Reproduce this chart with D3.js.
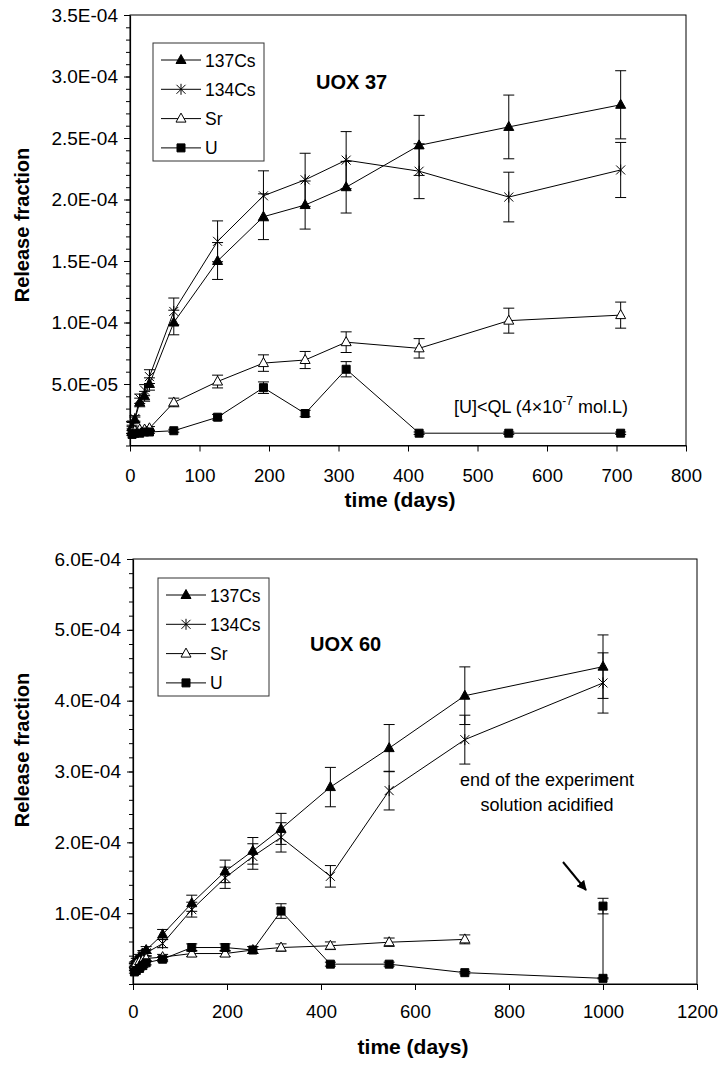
<!DOCTYPE html>
<html>
<head>
<meta charset="utf-8">
<script src="https://cdn.jsdelivr.net/npm/d3@7"></script>
<style>
  body { margin: 0; background: #fff; }
  text { font-family: 'Liberation Sans', Arial, sans-serif; }
</style>
</head>
<body>
<div id="chart"></div>
<script>
// ---- data (release fractions) ----
const seriesNames = ['137Cs', '134Cs', 'Sr', 'U']
const errorPct = 0.10   // percentage error bars

// UOX 37
const uox37Days = [3, 7, 14, 21, 28, 63, 126, 192, 252, 311, 416, 545, 706]
const uox37Cs137 = [1.5e-5, 2.1e-5, 3.5e-5, 4.0e-5, 5.0e-5, 1.00e-4, 1.50e-4, 1.86e-4, 1.955e-4, 2.10e-4, 2.44e-4, 2.59e-4, 2.77e-4]
const uox37Cs134 = [1.7e-5, 2.2e-5, 3.8e-5, 4.5e-5, 5.6e-5, 1.09e-4, 1.66e-4, 2.03e-4, 2.16e-4, 2.32e-4, 2.23e-4, 2.02e-4, 2.24e-4]
const uox37Sr = [1.1e-5, 1.2e-5, 1.3e-5, 1.3e-5, 1.4e-5, 3.5e-5, 5.2e-5, 6.7e-5, 6.95e-5, 8.4e-5, 7.9e-5, 1.015e-4, 1.06e-4]
const uox37U = [0.9e-5, 1.0e-5, 1.0e-5, 1.1e-5, 1.1e-5, 1.2e-5, 2.3e-5, 4.7e-5, 2.6e-5, 6.2e-5, 1.0e-5, 1.0e-5, 1.0e-5]
const uox37XTicks = [0, 100, 200, 300, 400, 500, 600, 700, 800]
const uox37YTicks = [5.0e-5, 1.0e-4, 1.5e-4, 2.0e-4, 2.5e-4, 3.0e-4, 3.5e-4]

// UOX 60
const uox60Days = [3, 7, 14, 21, 28, 63, 125, 196, 255, 315, 420, 545, 706, 1000]
const uox60Cs137 = [2.8e-5, 3.3e-5, 3.8e-5, 4.3e-5, 4.8e-5, 7.0e-5, 1.14e-4, 1.59e-4, 1.88e-4, 2.19e-4, 2.78e-4, 3.33e-4, 4.07e-4, 4.48e-4]
const uox60Cs134 = [2.6e-5, 3.0e-5, 3.5e-5, 4.0e-5, 4.4e-5, 5.7e-5, 1.05e-4, 1.50e-4, 1.80e-4, 2.07e-4, 1.52e-4, 2.73e-4, 3.45e-4, 4.25e-4]
const uox60SrDays = [3, 7, 14, 21, 28, 63, 125, 196, 255, 315, 420, 545, 706]
const uox60Sr = [2.6e-5, 2.9e-5, 3.2e-5, 3.4e-5, 3.6e-5, 3.8e-5, 4.3e-5, 4.3e-5, 4.8e-5, 5.15e-5, 5.4e-5, 5.9e-5, 6.3e-5]
const uox60UDays = [3, 7, 14, 21, 28, 63, 125, 196, 255, 315, 420, 545, 706, 1000, 1000]
const uox60U = [1.7e-5, 1.9e-5, 2.2e-5, 2.6e-5, 3.0e-5, 3.5e-5, 5.15e-5, 5.15e-5, 4.8e-5, 1.03e-4, 2.8e-5, 2.8e-5, 1.6e-5, 0.8e-5, 1.1e-4]
const uox60XTicks = [0, 200, 400, 600, 800, 1000, 1200]
const uox60YTicks = [1.0e-4, 2.0e-4, 3.0e-4, 4.0e-4, 5.0e-4, 6.0e-4]

const zip = (days, vals) => days.map((d, i) => ({day: d, val: vals[i]}))

const svg = d3.select('#chart').append('svg')
    .attr('width', 720)
    .attr('height', 1066)
    .style('background', '#fff')

function fmtSci(v){
    const parts = v.toExponential(1).split('e')
    const e = +parts[1]
    return parts[0] + 'E' + (e < 0 ? '-' : '+') + String(Math.abs(e)).padStart(2, '0')
}

// marker paths, centred on 0,0
const markerPath = {
    triangle: 'M0,-5.5L5,3.5L-5,3.5Z',
    asterisk: 'M0,-5.5V5.5M-4.5,-4.5L4.5,4.5M-4.5,4.5L4.5,-4.5',
    square: 'M-4,-4H4V4H-4Z'
}
const markerStyle = [
    {path: 'triangle', fill: '#000'},
    {path: 'asterisk', fill: 'none'},
    {path: 'triangle', fill: '#fff'},
    {path: 'square', fill: '#000'}
]

function drawMarker(sel, k){
    sel.append('path')
       .attr('d', markerPath[markerStyle[k].path])
       .attr('fill', markerStyle[k].fill)
       .attr('stroke', '#000')
       .attr('stroke-width', 1)
}

function drawChart(c){
    const g = svg.append('g')
    const x = d3.scaleLinear().domain(c.xDomain).range([c.left, c.right])
    const y = d3.scaleLinear().domain(c.yDomain).range([c.bottom, c.top])

    // plot frame
    g.append('rect')
     .attr('x', c.left).attr('y', c.top)
     .attr('width', c.right - c.left).attr('height', c.bottom - c.top)
     .attr('fill', 'none').attr('stroke', '#000').attr('stroke-width', 1)

    // minor y ticks
    g.append('g')
     .attr('transform', `translate(${c.left},0)`)
     .call(d3.axisLeft(y).tickValues(c.yMinor).tickSize(4).tickFormat(''))
     .call(a => a.select('.domain').remove())

    const yAxis = g.append('g')
     .attr('transform', `translate(${c.left},0)`)
     .call(d3.axisLeft(y).tickValues(c.yTicks).tickSize(6).tickSizeOuter(0).tickPadding(6).tickFormat(fmtSci))
    yAxis.selectAll('text').attr('font-size', '19px').attr('fill', '#000')
         .style('font-family', "'Liberation Sans', Arial, sans-serif")

    const xAxis = g.append('g')
     .attr('transform', `translate(0,${c.bottom})`)
     .call(d3.axisBottom(x).tickValues(c.xTicks).tickSize(6).tickSizeOuter(0).tickPadding(c.xPad).tickFormat(d3.format('d')))
    xAxis.selectAll('text').attr('font-size', '18.5px').attr('fill', '#000')
         .style('font-family', "'Liberation Sans', Arial, sans-serif")
    g.selectAll('.domain').attr('stroke-width', 1.2)

    // axis titles
    g.append('text')
     .attr('x', c.xTitleX).attr('y', c.xTitleY)
     .attr('text-anchor', 'middle')
     .attr('font-size', '21px').attr('font-weight', 'bold')
     .text('time (days)')
    g.append('text')
     .attr('transform', `translate(29,${c.yTitleY}) rotate(-90)`)
     .attr('text-anchor', 'middle')
     .attr('font-size', '20px').attr('font-weight', 'bold')
     .text('Release fraction')

    const line = d3.line().x(d => x(d.day)).y(d => y(d.val))

    c.series.forEach((s, k) => {
        g.append('path')
         .datum(s)
         .attr('d', line)
         .attr('fill', 'none')
         .attr('stroke', '#000')
         .attr('stroke-width', 1)

        const bars = g.append('g')
        s.forEach(d => {
            const hi = y(d.val * (1 + errorPct)), lo = y(d.val * (1 - errorPct)), cx = x(d.day)
            bars.append('path')
                .attr('d', `M${cx},${hi}V${lo}M${cx - 5.5},${hi}H${cx + 5.5}M${cx - 5.5},${lo}H${cx + 5.5}`)
                .attr('stroke', '#000').attr('stroke-width', 1).attr('fill', 'none')
        })

        g.append('g').selectAll('g')
         .data(s)
         .join('g')
         .attr('transform', d => `translate(${x(d.day)},${y(d.val)})`)
         .each(function(){ drawMarker(d3.select(this), k) })
    })

    // legend
    const lg = g.append('g')
    lg.append('rect')
      .attr('x', c.legend.x).attr('y', c.legend.y)
      .attr('width', 111).attr('height', 118)
      .attr('fill', '#fff').attr('stroke', '#333').attr('stroke-width', 1)
    seriesNames.forEach((name, k) => {
        const ly = c.legend.y + 17 + k * 29.3
        lg.append('line')
          .attr('x1', c.legend.x + 8).attr('x2', c.legend.x + 48)
          .attr('y1', ly).attr('y2', ly)
          .attr('stroke', '#000').attr('stroke-width', 1)
        const m = lg.append('g').attr('transform', `translate(${c.legend.x + 28},${ly})`)
        drawMarker(m, k)
        lg.append('text')
          .attr('x', c.legend.x + 52).attr('y', ly + 6.5)
          .attr('font-size', '17.5px')
          .text(name)
    })

    // chart label
    g.append('text')
     .attr('x', c.label.x).attr('y', c.label.y)
     .attr('font-size', '20px').attr('font-weight', 'bold')
     .text(c.label.text)

    return {g, x, y}
}

// ---- UOX 37 ----
const chartTop = drawChart({
    left: 130, right: 686, top: 15, bottom: 445.5,
    xDomain: [0, 800], yDomain: [0, 3.5e-4],
    xTicks: uox37XTicks, yTicks: uox37YTicks,
    yMinor: d3.range(0, 36).map(i => i * 1e-5),
    xPad: 17, xTitleX: 400, xTitleY: 507, yTitleY: 225,
    series: [zip(uox37Days, uox37Cs137), zip(uox37Days, uox37Cs134), zip(uox37Days, uox37Sr), zip(uox37Days, uox37U)],
    legend: {x: 153, y: 43},
    label: {x: 316, y: 89, text: 'UOX 37'}
})

const ql = chartTop.g.append('text')
    .attr('x', 628).attr('y', 413)
    .attr('text-anchor', 'end')
    .attr('font-size', '18px')
ql.append('tspan').text('[U]<QL (4\u00d710')
ql.append('tspan').attr('dy', -8).attr('font-size', '12px').text('-7')
ql.append('tspan').attr('dy', 8).text(' mol.L)')

// ---- UOX 60 ----
const chartBottom = drawChart({
    left: 133, right: 697, top: 559, bottom: 984,
    xDomain: [0, 1200], yDomain: [0, 6e-4],
    xTicks: uox60XTicks, yTicks: uox60YTicks,
    yMinor: d3.range(0, 31).map(i => i * 2e-5),
    xPad: 15, xTitleX: 413, xTitleY: 1054, yTitleY: 750,
    series: [zip(uox60Days, uox60Cs137), zip(uox60Days, uox60Cs134), zip(uox60SrDays, uox60Sr), zip(uox60UDays, uox60U)],
    legend: {x: 158, y: 578},
    label: {x: 310, y: 651, text: 'UOX 60'}
})

chartBottom.g.append('text')
    .attr('x', 547).attr('y', 786)
    .attr('text-anchor', 'middle').attr('font-size', '18px')
    .text('end of the experiment')
chartBottom.g.append('text')
    .attr('x', 547).attr('y', 811)
    .attr('text-anchor', 'middle').attr('font-size', '18px')
    .text('solution acidified')

svg.append('defs').append('marker')
    .attr('id', 'arrow')
    .attr('viewBox', '0 0 10 10')
    .attr('refX', 9).attr('refY', 5)
    .attr('markerWidth', 5).attr('markerHeight', 5)
    .attr('orient', 'auto')
    .append('path').attr('d', 'M0,0L10,5L0,10Z').attr('fill', '#000')

chartBottom.g.append('line')
    .attr('x1', 563).attr('y1', 862)
    .attr('x2', 586).attr('y2', 890)
    .attr('stroke', '#000').attr('stroke-width', 2)
    .attr('marker-end', 'url(#arrow)')
</script>
</body>
</html>
